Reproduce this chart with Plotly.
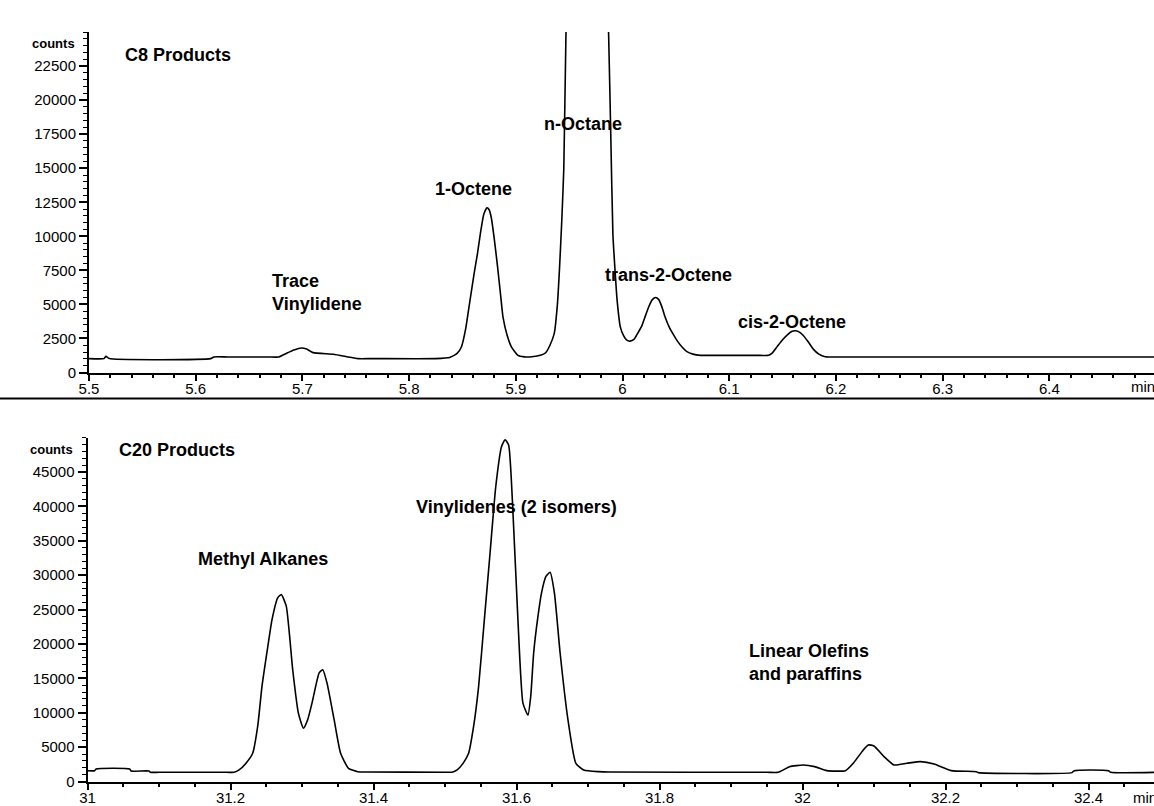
import plotly.graph_objects as go

# ---------------- data ----------------
c8_time = [5.500, 5.514, 5.516, 5.519, 5.614, 5.617, 5.630, 5.668, 5.678, 5.685, 5.692,
           5.699, 5.704, 5.710, 5.729, 5.743, 5.752, 5.765, 5.825, 5.838, 5.845, 5.849,
           5.853, 5.857, 5.861, 5.864, 5.867, 5.870, 5.873, 5.875, 5.877, 5.880, 5.883,
           5.886, 5.888, 5.892, 5.896, 5.902, 5.908, 5.913, 5.923, 5.928, 5.932, 5.936,
           5.939, 5.941, 5.943, 5.945, 5.947, 5.949, 5.967, 5.985, 5.987, 5.989, 5.991,
           5.993, 5.995, 5.998, 6.001, 6.004, 6.007, 6.011, 6.014, 6.018, 6.021, 6.025,
           6.028, 6.031, 6.034, 6.037, 6.040, 6.044, 6.048, 6.052, 6.056, 6.060, 6.066,
           6.073, 6.085, 6.125, 6.137, 6.140, 6.145, 6.150, 6.155, 6.159, 6.162, 6.165,
           6.169, 6.174, 6.179, 6.184, 6.190, 6.205, 6.500]
c8_counts = [1020, 1020, 1190, 1020, 1020, 1140, 1140, 1140, 1140, 1400, 1650,
             1800, 1720, 1460, 1340, 1140, 1020, 1020, 1020, 1100, 1400, 1870,
             3200, 5260, 7300, 8700, 10300, 11620, 12100, 11950, 11380, 9700, 7700,
             5500, 4060, 2700, 1870, 1260, 1150, 1140, 1260, 1450, 2000, 2850,
             5000, 7700, 11000, 15000, 24800, 30000, 80000, 30000, 24800, 17500, 10150,
             7500, 5260, 3330, 2700, 2370, 2300, 2450, 2850, 3400, 4060, 4900,
             5350, 5510, 5350, 4800, 4060, 3300, 2750, 2250, 1850, 1550, 1350,
             1260, 1260, 1260, 1260, 1400, 1900, 2400, 2800, 3030, 3070, 3000,
             2750, 2250, 1700, 1350, 1160, 1140, 1140]

c20_time = [31.000, 31.010, 31.012, 31.059, 31.061, 31.086, 31.088, 31.100, 31.195, 31.205,
            31.212, 31.222, 31.231, 31.238, 31.244, 31.251, 31.258, 31.266, 31.271, 31.278,
            31.287, 31.295, 31.302, 31.308, 31.314, 31.324, 31.329, 31.335, 31.345, 31.354,
            31.365, 31.378, 31.390, 31.500, 31.510, 31.517, 31.525, 31.533, 31.540, 31.547,
            31.555, 31.563, 31.571, 31.579, 31.584, 31.589, 31.595, 31.602, 31.609, 31.616,
            31.620, 31.624, 31.630, 31.635, 31.641, 31.647, 31.653, 31.661, 31.672, 31.683,
            31.694, 31.715, 31.730, 31.950, 31.966, 31.982, 32.001, 32.017, 32.034, 32.060,
            32.071, 32.085, 32.092, 32.100, 32.114, 32.128, 32.146, 32.165, 32.184, 32.208,
            32.243, 32.246, 32.377, 32.380, 32.428, 32.431, 32.500]
c20_counts = [1570, 1570, 1820, 1820, 1530, 1530, 1340, 1340, 1340, 1340,
              1680, 2700, 4100, 8000, 13800, 18800, 23500, 26700, 27200, 25500,
              16250, 9900, 7750, 9000, 11400, 15800, 16250, 14300, 8960, 4100,
              1920, 1430, 1380, 1350, 1350, 1680, 2600, 4100, 8000, 13800,
              23500, 33200, 42900, 48700, 49700, 48950, 39240, 23500, 11400, 9660,
              12500, 18690, 24000, 27430, 29800, 30440, 27430, 18690, 8960, 2650,
              1680, 1430, 1380, 1340, 1340, 2160, 2400, 2160, 1580, 1580,
              2650, 4590, 5320, 5170, 3620, 2400, 2650, 2890, 2550, 1580,
              1430, 1290, 1290, 1580, 1580, 1340, 1340]

c8_xticks = [5.5, 5.6, 5.7, 5.8, 5.9, 6.0, 6.1, 6.2, 6.3, 6.4]
c8_xtick_labels = ["5.5", "5.6", "5.7", "5.8", "5.9", "6", "6.1", "6.2", "6.3", "6.4"]
c8_yticks = [0, 2500, 5000, 7500, 10000, 12500, 15000, 17500, 20000, 22500]
c8_ytick_labels = ["0", "2500", "5000", "7500", "10000", "12500", "15000", "17500", "20000", "22500"]

c20_xticks = [31.0, 31.2, 31.4, 31.6, 31.8, 32.0, 32.2, 32.4]
c20_xtick_labels = ["31", "31.2", "31.4", "31.6", "31.8", "32", "32.2", "32.4"]
c20_yticks = [0, 5000, 10000, 15000, 20000, 25000, 30000, 35000, 40000, 45000]
c20_ytick_labels = ["0", "5000", "10000", "15000", "20000", "25000", "30000", "35000", "40000", "45000"]

c8_title = "C8 Products"
c20_title = "C20 Products"
c8_labels = ["Trace<br>Vinylidene", "1-Octene", "n-Octane", "trans-2-Octene", "cis-2-Octene"]
c8_label_x = [5.670, 5.8224, 5.9246, 5.9817, 6.1064]
c8_label_y = [5910, 13470, 18240, 7160, 3710]
c20_labels = ["Methyl Alkanes", "Vinylidenes (2 isomers)", "Linear Olefins<br>and paraffins"]
c20_label_x = [31.1517, 31.4573, 31.9224]
c20_label_y = [32350, 39900, 17300]

# ---------------- figure ----------------
W, H = 1154, 806
FONT = "Liberation Sans, Arial, sans-serif"

def px_x(p):
    return p / W

def px_y(p):
    return (H - p) / H

fig = go.Figure()
fig.add_trace(go.Scatter(x=c8_time, y=c8_counts, mode="lines",
                         line=dict(color="black", width=1.6, shape="spline", smoothing=0.5),
                         xaxis="x", yaxis="y", showlegend=False, hoverinfo="skip"))
fig.add_trace(go.Scatter(x=c20_time, y=c20_counts, mode="lines",
                         line=dict(color="black", width=1.6, shape="spline", smoothing=0.5),
                         xaxis="x2", yaxis="y2", showlegend=False, hoverinfo="skip"))

tickfont = dict(family=FONT, size=15, color="black")

def xaxis(domain_left, rng, vals, texts, minor_dtick, anchor):
    return dict(domain=[domain_left, 1], range=rng, tickmode="array", tickvals=vals,
                ticktext=texts, ticks="outside", ticklen=6, tickwidth=1.5, tickcolor="black",
                showline=True, linecolor="black", linewidth=2, showgrid=False, zeroline=False,
                tickfont=tickfont, anchor=anchor, fixedrange=True, automargin=False,
                ticklabelstandoff=-5,
                minor=dict(dtick=minor_dtick, tick0=rng[0], ticks="outside", ticklen=3,
                           tickwidth=1.5, tickcolor="black", showgrid=False))

def yaxis(domain, rng, vals, texts, minor_dtick, anchor):
    return dict(domain=domain, range=rng, tickmode="array", tickvals=vals,
                ticktext=texts, ticks="outside", ticklen=8, tickwidth=1.5, tickcolor="black",
                showline=True, linecolor="black", linewidth=2, showgrid=False, zeroline=False,
                tickfont=tickfont, anchor=anchor, fixedrange=True, automargin=False,
                minor=dict(dtick=minor_dtick, tick0=0, ticks="outside", ticklen=4,
                           tickwidth=1, tickcolor="black", showgrid=False))

# right end of each axis sits at the page's right edge (x = 1154 px)
c8_xmax = 5.5 + (1154 - 89) / 1067.0
c20_xmax = 31.0 + (1154 - 87.5) / 715.0

fig.update_layout(
    width=W, height=H,
    margin=dict(l=0, r=0, t=0, b=0),
    paper_bgcolor="white", plot_bgcolor="white",
    xaxis=xaxis(px_x(89), [5.5, c8_xmax], c8_xticks, c8_xtick_labels, 0.02, "y"),
    yaxis=yaxis([px_y(372.5), px_y(32)], [0, 25000], c8_yticks, c8_ytick_labels, 500, "x"),
    xaxis2=xaxis(px_x(87.5), [31.0, c20_xmax], c20_xticks, c20_xtick_labels, 0.05, "y2"),
    yaxis2=yaxis([px_y(781.5), px_y(437.7)], [0, 50000], c20_yticks, c20_ytick_labels, 1000, "x2"),
)

label_font = dict(family=FONT, size=18, color="black")
annotations = []
annotations.append(dict(x=5.532, y=23300, xref="x", yref="y", text="<b>%s</b>" % c8_title,
                        xanchor="left", yanchor="middle", showarrow=False, font=label_font))
annotations.append(dict(x=31.0413, y=48200, xref="x2", yref="y2", text="<b>%s</b>" % c20_title,
                        xanchor="left", yanchor="middle", showarrow=False, font=label_font))
for t, xx, yy in zip(c8_labels, c8_label_x, c8_label_y):
    annotations.append(dict(x=xx, y=yy, xref="x", yref="y",
                            text="<b>" + t.replace("<br>", "</b><br><b>") + "</b>",
                            xanchor="left", yanchor="middle", showarrow=False, font=label_font,
                            align="left"))
for t, xx, yy in zip(c20_labels, c20_label_x, c20_label_y):
    annotations.append(dict(x=xx, y=yy, xref="x2", yref="y2",
                            text="<b>" + t.replace("<br>", "</b><br><b>") + "</b>",
                            xanchor="left", yanchor="middle", showarrow=False, font=label_font,
                            align="left"))
small = dict(family=FONT, size=13, color="black")
annotations.append(dict(x=px_x(77), y=px_y(43), xref="paper", yref="paper", text="<b>counts</b>",
                        xanchor="right", yanchor="middle", showarrow=False, font=small))
annotations.append(dict(x=px_x(75), y=px_y(449), xref="paper", yref="paper", text="<b>counts</b>",
                        xanchor="right", yanchor="middle", showarrow=False, font=small))
annotations.append(dict(x=px_x(1129), y=px_y(386), xref="paper", yref="paper", text="min",
                        xanchor="left", yanchor="middle", showarrow=False, font=tickfont))
annotations.append(dict(x=px_x(1131), y=px_y(797), xref="paper", yref="paper", text="min",
                        xanchor="left", yanchor="middle", showarrow=False, font=tickfont))
fig.update_layout(annotations=annotations)

fig.add_shape(type="line", xref="paper", yref="paper", x0=-0.01, x1=1.01,
              y0=px_y(398.5), y1=px_y(398.5), line=dict(color="black", width=2))

# remove the default page margin so the 1154x806 figure fills the window exactly
fig.write_html("out.html", config={"displayModeBar": False},
               post_script="document.body.style.margin='0';document.body.style.overflow='hidden';")
